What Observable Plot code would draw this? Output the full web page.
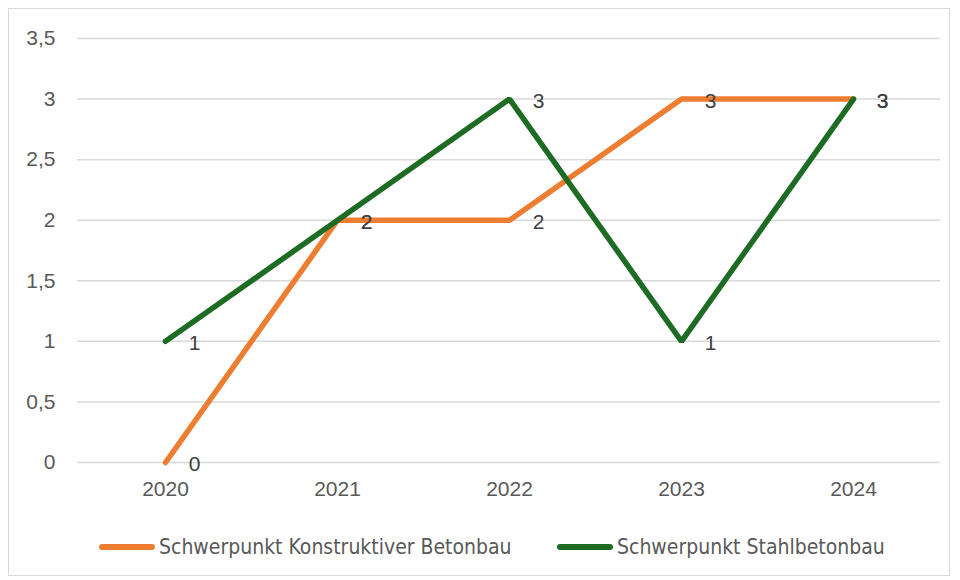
<!DOCTYPE html>
<html><head><meta charset="utf-8">
<script src="https://cdn.jsdelivr.net/npm/d3@7"></script>
<script src="https://cdn.jsdelivr.net/npm/@observablehq/plot@0.6"></script>
<style>
body{margin:0;background:#fff;font-family:"Liberation Sans",Arial,sans-serif;}
#wrap{position:relative;width:960px;height:580px;}
#frame{position:absolute;left:8px;top:8px;width:940px;height:566px;border:1.5px solid #d9d9d9;}
#chart{position:absolute;left:0;top:0;}
#legend{position:absolute;left:0;top:534px;width:960px;height:26px;font-family:"Liberation Sans Narrow","DejaVu Sans Condensed","Liberation Sans",sans-serif;font-size:21px;color:#595959;}
.item{position:absolute;top:0;display:flex;align-items:center;height:26px;}
.sw{width:56px;height:6px;border-radius:3px;margin-right:4px;}
</style></head>
<body><div id="wrap"><div id="frame"></div><div id="chart"></div><div id="legend"></div></div>
<script>
const years = ["2020","2021","2022","2023","2024"];
const seriesNames = ["Schwerpunkt Konstruktiver Betonbau","Schwerpunkt Stahlbetonbau"];
const konstruktiv = [0,2,2,3,3];
const stahlbeton = [1,2,3,1,3];
const colors = ["#ED7D31","#1E6B24"];
const yTicks = [0,0.5,1,1.5,2,2.5,3,3.5];

const data = [];
[konstruktiv, stahlbeton].forEach((vals, si) => {
  vals.forEach((v, i) => data.push({year: years[i], value: v, series: seriesNames[si]}));
});
const fmt = d => String(d).replace(".", ",");

const plot = Plot.plot({
  width: 960, height: 520,
  marginLeft: 77, marginRight: 20, marginTop: 38, marginBottom: 58,
  style: {fontFamily: '"Liberation Sans", Arial, sans-serif', fontSize: "21px", color: "#595959", background: "transparent"},
  x: {type: "point", domain: years, padding: 0.5, label: null},
  y: {domain: [0, 3.5], label: null},
  color: {domain: seriesNames, range: colors},
  marks: [
    Plot.gridY(yTicks, {stroke: "#d9d9d9", strokeOpacity: 1, strokeWidth: 1.5}),
    Plot.axisY(yTicks, {tickSize: 0, tickPadding: 22, tickFormat: fmt, fill: "#595959", fontSize: 21}),
    Plot.axisX({tickSize: 0, tickPadding: 19, fill: "#595959", fontSize: 21}),
    Plot.line(data, {x: "year", y: "value", z: "series", stroke: "series", strokeWidth: 5.5, strokeLinecap: "round", strokeLinejoin: "miter"}),
    Plot.text(data, {x: "year", y: "value", text: d => fmt(d.value), dx: 29, dy: 2, fill: "#404040", fontSize: 21})
  ]
});
document.getElementById("chart").appendChild(plot);

const legend = document.getElementById("legend");
const lefts = [99, 557];
seriesNames.forEach((n, i) => {
  const it = document.createElement("div");
  it.className = "item";
  it.style.left = lefts[i] + "px";
  it.innerHTML = `<div class="sw" style="background:${colors[i]}"></div><span>${n}</span>`;
  legend.appendChild(it);
});
</script></body></html>
